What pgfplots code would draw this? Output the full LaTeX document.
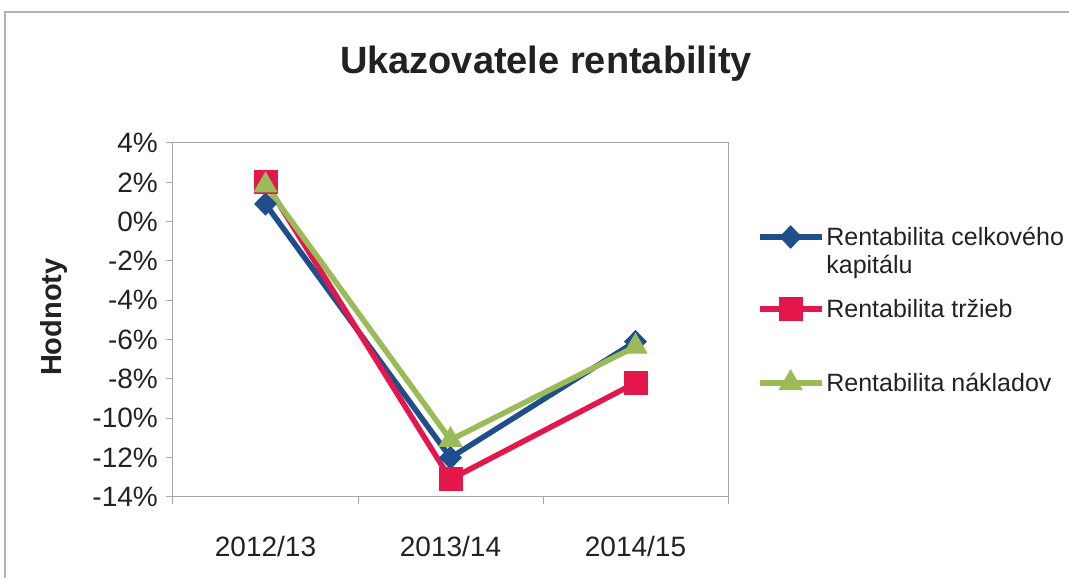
\documentclass[border=0pt]{standalone}
\usepackage{pgfplots}
\pgfplotsset{compat=1.18}
\usepackage{fontspec}
\setmainfont{Liberation Sans}
\definecolor{cblue}{HTML}{1F4E8C}
\definecolor{cred}{HTML}{E3174B}
\definecolor{cgreen}{HTML}{9BBB59}
\definecolor{ctext}{HTML}{222222}
\begin{document}
\begin{tikzpicture}
\useasboundingbox (0,0) rectangle (1069pt,578pt);
\draw[gray!60, line width=1.2pt] (5pt,0pt) -- (5pt,566pt) -- (1069pt,566pt);
\begin{axis}[
  at={(173pt,81pt)}, anchor=south west,
  scale only axis, width=555pt, height=354pt,
  xmin=-0.5, xmax=2.5, ymin=-14, ymax=4,
  xtick={-0.5,0.5,1.5,2.5},
  x tick label as interval=true,
  xticklabels={2012/13,2013/14,2014/15},
  ytick={-14,-12,...,4},
  yticklabels={-14\%,-12\%,-10\%,-8\%,-6\%,-4\%,-2\%,0\%,2\%,4\%},
  tick align=outside, xtick pos=bottom, ytick pos=left,
  major tick length=7pt,
  axis line style={gray!70, line width=1pt},
  tick style={gray!70, line width=1pt},
  ticklabel style={font=\fontsize{28}{32}\selectfont, text=ctext},
  yticklabel style={inner sep=0pt, xshift=-8pt},
  xticklabel style={inner sep=0pt, yshift=-32pt},
  title={Ukazovatele rentability},
  title style={font=\bfseries\fontsize{38}{44}\selectfont, text=ctext, at={(axis description cs:0.672,1)}, anchor=center, yshift=73pt},
  ylabel={Hodnoty},
  ylabel style={font=\bfseries\fontsize{29}{34}\selectfont, text=ctext, at={(axis description cs:-0.2144,0.508)}, anchor=center, rotate=0},
  legend style={draw=none, fill=none, inner sep=0pt, outer sep=0pt,
    at={(axis description cs:1.052,0.774)}, anchor=north west,
    font=\fontsize{25}{30}\selectfont, text=ctext,
    nodes={inner sep=0pt}, column sep=2pt, row sep=0pt},
  legend cell align=left,
  legend image code/.code={\draw[#1, mark repeat=2, mark phase=2] plot coordinates {(0pt,0pt) (31pt,0pt) (62pt,0pt)};},
  every axis plot/.append style={line width=5.5pt},
]
\addplot[cblue, mark=diamond*, mark size=11pt, mark options={xscale=1.3, solid, line width=1pt}] coordinates {(0,0.9) (1,-12.0) (2,-6.1)};
\addlegendentry[minimum height=28pt]{Rentabilita celkového}
\addlegendimage{empty legend}
\addlegendentry[minimum height=28pt]{kapitálu}
\addplot[cred, mark=square*, mark size=11.5pt, mark options={solid, line width=1pt}] coordinates {(0,2.0) (1,-13.1) (2,-8.2)};
\addlegendentry[minimum height=60pt]{Rentabilita tržieb}
\addplot[cgreen, mark=triangle*, mark size=13pt, mark options={solid, line width=1pt}] coordinates {(0,1.85) (1,-11.1) (2,-6.35)};
\addlegendentry[minimum height=88pt]{Rentabilita nákladov}
\end{axis}
\end{tikzpicture}
\end{document}
